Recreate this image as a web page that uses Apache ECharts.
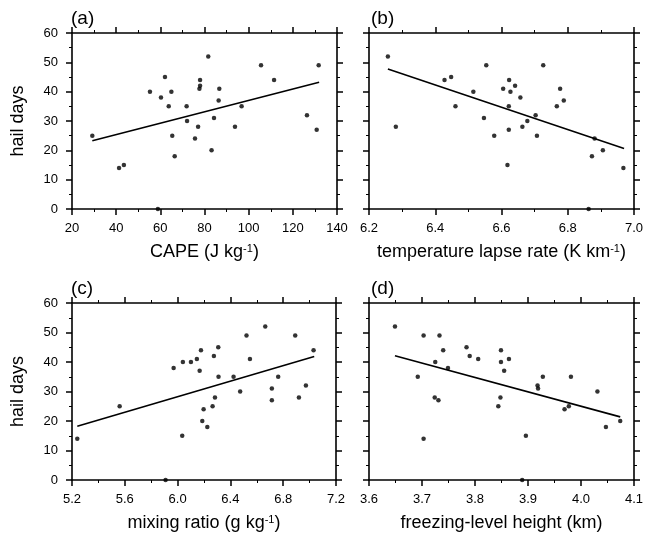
<!DOCTYPE html>
<html><head><meta charset="utf-8">
<script src="https://cdn.jsdelivr.net/npm/echarts@6/dist/echarts.min.js"></script>
<style>html,body{margin:0;padding:0;background:#fff}#c{width:655px;height:538px}</style>
</head><body><div id="c"></div>
<script>
// ---- data ----
const hailTicks = [0, 10, 20, 30, 40, 50, 60];

const capeX = [29.2, 41.3, 43.5, 55.3, 58.9, 60.3, 62.1, 63.8, 65.0, 65.4, 66.5, 71.9, 72.1, 75.7, 77.1, 77.7, 78.0, 78.0, 81.7, 83.2, 84.3, 86.4, 86.7, 93.8, 96.8, 105.6, 111.5, 126.4, 130.8, 131.7];
const capeY = [25, 14, 15, 40, 0, 38, 45, 35, 40, 25, 18, 35, 30, 24, 28, 41, 42, 44, 52, 20, 31, 37, 41, 28, 35, 49, 44, 32, 27, 49];
const capeFitX = [29.2, 131.9];
const capeFitY = [23.3, 43.2];

const lapseX = [6.257, 6.281, 6.428, 6.448, 6.461, 6.515, 6.547, 6.554, 6.578, 6.605, 6.618, 6.622, 6.622, 6.623, 6.627, 6.641, 6.657, 6.663, 6.678, 6.703, 6.707, 6.726, 6.767, 6.777, 6.788, 6.863, 6.873, 6.881, 6.906, 6.968];
const lapseY = [52, 28, 44, 45, 35, 40, 31, 49, 25, 41, 15, 35, 27, 44, 40, 42, 38, 28, 30, 32, 25, 49, 35, 41, 37, 0, 18, 24, 20, 14];
const lapseFitX = [6.257, 6.970];
const lapseFitY = [47.7, 20.6];

const mixX = [5.240, 5.561, 5.909, 5.970, 6.035, 6.040, 6.101, 6.146, 6.167, 6.177, 6.187, 6.197, 6.225, 6.265, 6.275, 6.283, 6.308, 6.310, 6.424, 6.474, 6.522, 6.548, 6.664, 6.714, 6.714, 6.762, 6.891, 6.919, 6.972, 7.030];
const mixY = [14, 25, 0, 38, 15, 40, 40, 41, 37, 44, 20, 24, 18, 25, 42, 28, 45, 35, 35, 30, 49, 41, 52, 31, 27, 35, 49, 28, 32, 44];
const mixFitX = [5.240, 7.035];
const mixFitY = [18.2, 41.9];

const frzX = [3.649, 3.692, 3.703, 3.703, 3.724, 3.725, 3.731, 3.733, 3.740, 3.749, 3.784, 3.790, 3.806, 3.844, 3.848, 3.849, 3.849, 3.855, 3.864, 3.889, 3.896, 3.918, 3.919, 3.928, 3.969, 3.977, 3.981, 4.031, 4.047, 4.074];
const frzY = [52, 35, 49, 14, 28, 40, 27, 49, 44, 38, 45, 42, 41, 25, 28, 44, 40, 37, 41, 0, 15, 32, 31, 35, 24, 25, 35, 30, 18, 20];
const frzFitX = [3.649, 4.074];
const frzFitY = [42.1, 21.4];

const panelLetters = ['(a)', '(b)', '(c)', '(d)'];
const xNames = ['CAPE (J kg{sup|-1})', 'temperature lapse rate (K km{sup|-1})', 'mixing ratio (g kg{sup|-1})', 'freezing-level height (km)'];
const yName = 'hail days';

// ---- layout / styling ----
const FONT = 'Liberation Sans, Arial, Helvetica, sans-serif';
const grids = [
  {left: 72, top: 33, width: 265, height: 176},
  {left: 369, top: 33, width: 265, height: 176},
  {left: 72, top: 303, width: 264, height: 177},
  {left: 369, top: 303, width: 265, height: 177}
];
const xCfg = [
  {min: 20, max: 140, interval: 20, fmt: v => String(v)},
  {min: 6.2, max: 7.0, interval: 0.2, fmt: v => v.toFixed(1)},
  {min: 5.2, max: 7.2, interval: 0.4, fmt: v => v.toFixed(1)},
  {min: 3.6, max: 4.1, interval: 0.1, fmt: v => v.toFixed(1)}
];
const pts = [[capeX, capeY], [lapseX, lapseY], [mixX, mixY], [frzX, frzY]];
const fits = [[capeFitX, capeFitY], [lapseFitX, lapseFitY], [mixFitX, mixFitY], [frzFitX, frzFitY]];

const lineStyle = {color: '#000', width: 1.6};
const tickStyle = {show: true, length: 6, lineStyle: {color: '#000', width: 1.5}};
const minorStyle = {show: true, splitNumber: 2, length: 3, lineStyle: {color: '#000', width: 1}};

const xAxis = [], yAxis = [], series = [], title = [];
const titlePos = [[66, 4], [366, 4], [66, 274], [366, 274]];
grids.forEach((g, i) => {
  const c = xCfg[i];
  xAxis.push({
    type: 'value', gridIndex: i, position: 'bottom', min: c.min, max: c.max, interval: c.interval,
    axisLine: {show: true, onZero: false, lineStyle},
    axisTick: tickStyle, minorTick: minorStyle, splitLine: {show: false},
    axisLabel: {show: true, formatter: c.fmt, color: '#000', fontSize: 13, fontFamily: FONT, margin: 13},
    name: xNames[i], nameLocation: 'middle', nameGap: 34,
    nameTextStyle: {color: '#000', fontSize: 18, fontFamily: FONT,
      rich: {sup: {fontSize: 11, fontFamily: FONT, color: '#000', verticalAlign: 'top', padding: [0, 0, 8, 0]}}}
  });
  xAxis.push({
    type: 'value', gridIndex: i, position: 'top', min: c.min, max: c.max, interval: c.interval,
    axisLine: {show: true, onZero: false, lineStyle},
    axisTick: tickStyle, minorTick: minorStyle, splitLine: {show: false},
    axisLabel: {show: false}
  });
  const left = (i % 2 === 0);
  yAxis.push({
    type: 'value', gridIndex: i, position: 'left', min: 0, max: 60, interval: 10,
    axisLine: {show: true, onZero: false, lineStyle},
    axisTick: tickStyle, minorTick: minorStyle, splitLine: {show: false},
    axisLabel: {show: left, color: '#000', fontSize: 13, fontFamily: FONT, margin: 14,
      customValues: hailTicks},
    name: left ? yName : '', nameLocation: 'middle', nameGap: 45, nameRotate: 90,
    nameTextStyle: {color: '#000', fontSize: 18, fontFamily: FONT}
  });
  yAxis.push({
    type: 'value', gridIndex: i, position: 'right', min: 0, max: 60, interval: 10,
    axisLine: {show: true, onZero: false, lineStyle},
    axisTick: tickStyle, minorTick: minorStyle, splitLine: {show: false},
    axisLabel: {show: false}
  });
  const [xs, ys] = pts[i];
  series.push({
    type: 'scatter', xAxisIndex: 2 * i, yAxisIndex: 2 * i, symbol: 'circle', symbolSize: 4.5,
    itemStyle: {color: '#000'}, clip: false, silent: true,
    data: xs.map((x, k) => [x, ys[k]])
  });
  const [fx, fy] = fits[i];
  series.push({
    type: 'line', xAxisIndex: 2 * i, yAxisIndex: 2 * i, symbol: 'none', silent: true,
    lineStyle: {color: '#000', width: 1.6},
    data: fx.map((x, k) => [x, fy[k]])
  });
  title.push({text: panelLetters[i], left: titlePos[i][0], top: titlePos[i][1],
    textStyle: {color: '#000', fontSize: 19, fontWeight: 'normal', fontFamily: FONT}});
});

const chart = echarts.init(document.getElementById('c'), null, {renderer: 'canvas'});
chart.setOption({
  animation: false,
  backgroundColor: '#fff',
  title,
  grid: grids.map(g => Object.assign({containLabel: false}, g)),
  xAxis, yAxis, series
});
</script>
</body></html>
